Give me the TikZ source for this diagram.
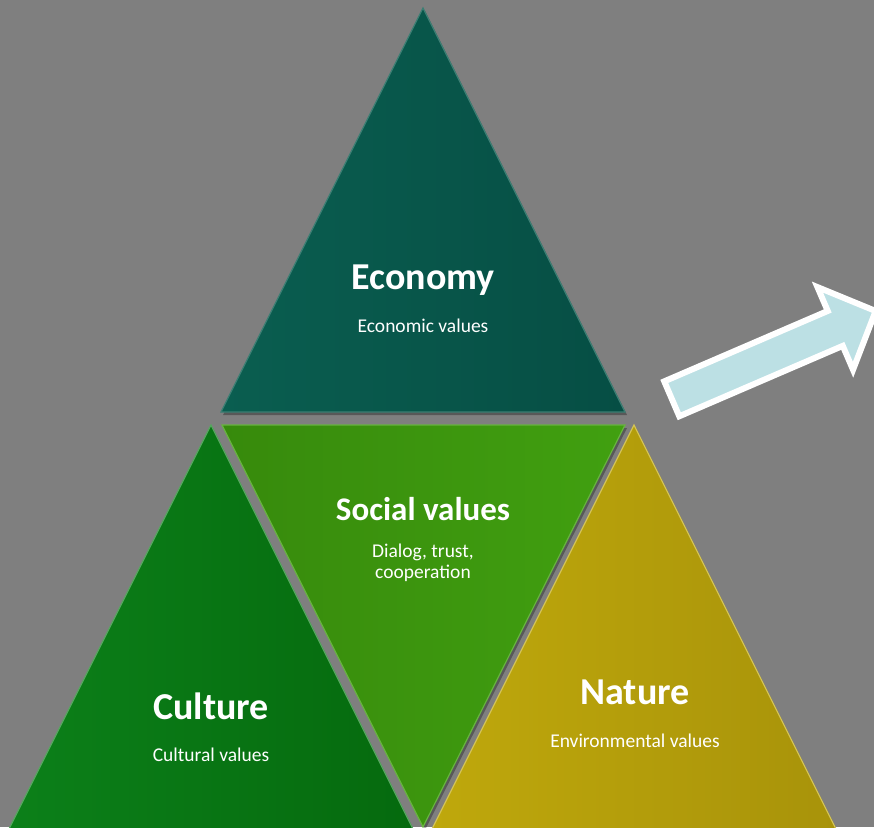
\documentclass[tikz,border=0pt]{standalone}
\usepackage{fontspec}
\setmainfont{Carlito}
\usetikzlibrary{calc}
\definecolor{colorbg}{HTML}{7F7F7F}
\definecolor{colorec}{HTML}{064E44}
\definecolor{colorecl}{HTML}{0A5E50}
\definecolor{colorcu}{HTML}{056A0E}
\definecolor{colorcul}{HTML}{0C8019}
\definecolor{colorso}{HTML}{378A0C}
\definecolor{colorsol}{HTML}{41A010}
\definecolor{colorna}{HTML}{A8930A}
\definecolor{colornal}{HTML}{BFA80C}
\definecolor{colorar}{HTML}{BCE0E4}
\tikzset{
  tri/.style={line width=1.2pt, line join=miter},
  triec/.style={tri, left color=colorecl, right color=colorec, draw=colorecl!80!white},
  tricu/.style={tri, left color=colorcul, right color=colorcu, draw=colorcul!70!white},
  triso/.style={tri, left color=colorso, right color=colorsol, draw=colorsol!80!white},
  trina/.style={tri, left color=colornal, right color=colorna, draw=colornal!70!white},
  trish/.style={fill=black, opacity=0.3},
  head/.style={text=white, anchor=base, font=\bfseries\fontsize{38}{44}\selectfont},
  sub/.style={text=white, anchor=base, align=center, font=\fontsize{19.5}{21}\selectfont}
}

\begin{document}
\begin{tikzpicture}[x=1pt, y={(0pt,-1pt)}]
\useasboundingbox (0,0) rectangle (874,827);
\fill[colorbg] (0,0) rectangle (874,827);
% shadows
\fill[trish] (425,11) -- (627,415) -- (223,415) -- cycle;
\fill[trish] (213,428) -- (415,832) -- (11,832) -- cycle;
\fill[trish] (224,428) -- (627,428) -- (425,830) -- cycle;
\fill[trish] (636,428) -- (838,832) -- (434,832) -- cycle;
% triangles
\draw[triec] (423,8) -- (625,412) -- (221,412) -- cycle;
\draw[tricu] (211,425) -- (413,829) -- (9,829) -- cycle;
\draw[triso] (222,425) -- (625,425) -- (423,827) -- cycle;
\draw[trina] (634,425) -- (836,829) -- (432,829) -- cycle;
% labels
\node[head] (ec) at (423,289) {Economy};
\node[sub] (ecv) at (423,332) {Economic values};
\node[head, font=\bfseries\fontsize{33}{40}\selectfont] (so) at (423,520) {Social values};
\node[sub] (sov) at (423,578) {Dialog, trust,\\cooperation};
\node[head] (cu) at (211,719) {Culture};
\node[sub] (cuv) at (211,761) {Cultural values};
\node[head] (na) at (635,704) {Nature};
\node[sub] (nav) at (635,747) {Environmental values};
% arrow
\begin{scope}[shift={(669,400)}, rotate=23.3]
\draw[line width=6pt, draw=white, fill=colorar, line join=miter]
  (3,-19) -- (181,-19) -- (181,-45) -- (225,0) -- (181,45) -- (181,19) -- (3,19) -- cycle;
\end{scope}
\end{tikzpicture}
\end{document}
